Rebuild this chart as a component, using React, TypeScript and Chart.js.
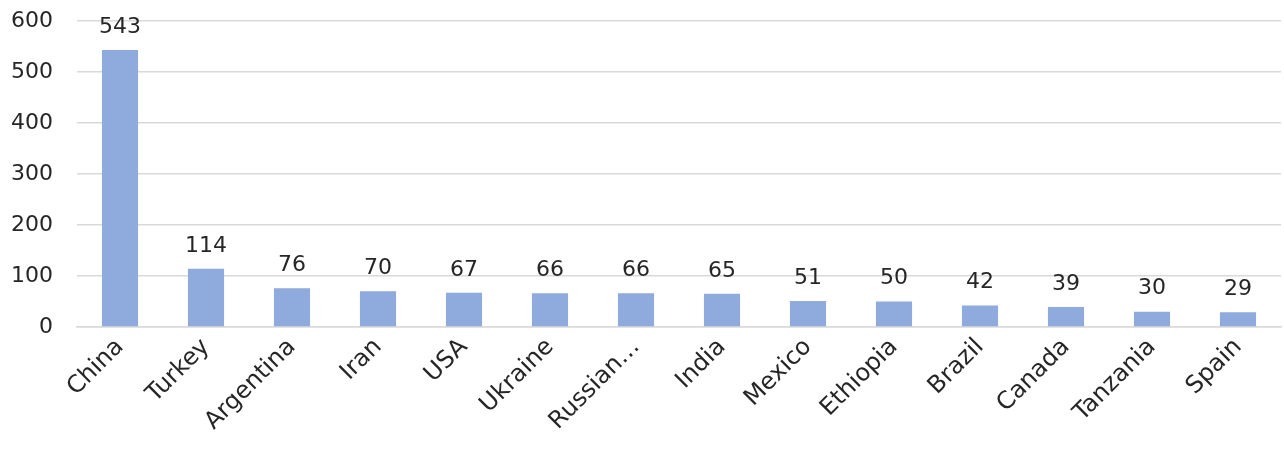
import React, { useEffect, useRef } from "react";
import { Chart, registerables } from "chart.js";

Chart.register(...registerables);

const countries = [
  "China", "Turkey", "Argentina", "Iran", "USA", "Ukraine", "Russian…",
  "India", "Mexico", "Ethiopia", "Brazil", "Canada", "Tanzania", "Spain",
];
const values = [543, 114, 76, 70, 67, 66, 66, 65, 51, 50, 42, 39, 30, 29];
const yTicks = [0, 100, 200, 300, 400, 500, 600];

const FONT = "'DejaVu Sans', sans-serif";
const TEXT = "#262626";

// Writes each bar's value centred above it
const valueLabels = {
  id: "valueLabels",
  afterDatasetsDraw(chart: any) {
    const { ctx } = chart;
    const meta = chart.getDatasetMeta(0);
    ctx.save();
    ctx.font = `22px ${FONT}`;
    ctx.fillStyle = TEXT;
    ctx.textAlign = "center";
    ctx.textBaseline = "bottom";
    meta.data.forEach((bar: any, i: number) => {
      ctx.fillText(String(values[i]), bar.x, bar.y - 12);
    });
    ctx.restore();
  },
};

export default function App() {
  const ref = useRef<HTMLCanvasElement | null>(null);

  useEffect(() => {
    if (!ref.current) return;
    const chart = new Chart(ref.current, {
      type: "bar",
      data: {
        labels: countries,
        datasets: [
          {
            data: values,
            backgroundColor: "#8FAADC",
            borderWidth: 0,
            barPercentage: 0.42,
            categoryPercentage: 1,
          },
        ],
      },
      options: {
        animation: false,
        responsive: true,
        maintainAspectRatio: false,
        layout: { padding: { top: 21, right: 3, left: 0, bottom: 0 } },
        plugins: { legend: { display: false }, tooltip: { enabled: false } },
        scales: {
          x: {
            grid: { display: false, drawTicks: false },
            border: { display: true, color: "#D9D9D9", width: 1.5 },
            ticks: {
              font: { family: FONT, size: 24 },
              color: TEXT,
              minRotation: 45,
              maxRotation: 45,
              autoSkip: false,
              padding: 6,
            },
            afterFit: (s: any) => {
              s.height = 124;
              s.paddingTop = 0;
            },
          },
          y: {
            min: 0,
            max: 600,
            afterBuildTicks: (s: any) => {
              s.ticks = yTicks.map((v) => ({ value: v }));
            },
            grid: { color: "#D9D9D9", lineWidth: 1.5, drawTicks: false },
            border: { display: false },
            ticks: {
              font: { family: FONT, size: 22 },
              color: TEXT,
              padding: 24,
            },
            afterFit: (s: any) => {
              s.width = 77;
              s.paddingTop = 0;
              s.paddingBottom = 0;
            },
          },
        },
      },
      plugins: [valueLabels],
    });
    return () => chart.destroy();
  }, []);

  return (
    <div style={{ position: "fixed", left: 0, top: 0, width: 1284, height: 451 }}>
      <canvas ref={ref} />
    </div>
  );
}
